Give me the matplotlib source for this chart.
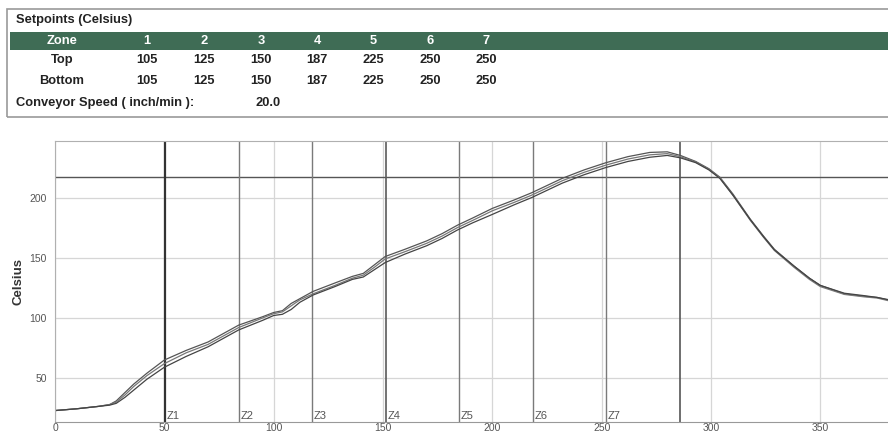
import matplotlib
matplotlib.use("Agg")
import matplotlib.pyplot as plt
from matplotlib.patches import Rectangle

plt.rcParams['font.family'] = ['Liberation Sans', 'DejaVu Sans']

# setpoint table
zones = ["1", "2", "3", "4", "5", "6", "7"]
top_sp = [105, 125, 150, 187, 225, 250, 250]
bottom_sp = [105, 125, 150, 187, 225, 250, 250]
conveyor_speed = "20.0"

# zone boundaries (x) and liquidus line
zone_x = [50.4, 84, 117.6, 151.2, 184.8, 218.4, 252]
zone_end = 285.6
liquidus = 217

# profile traces
t = [0, 10, 20, 25, 28, 32, 36, 42, 50, 60, 70, 84, 95, 100, 104, 108, 112,
     118, 128, 136, 141, 146, 151, 160, 170, 177, 184, 191, 200, 210, 218,
     225, 232, 242, 252, 262, 272, 280, 286, 293, 299, 304, 310, 318, 324,
     329, 338, 345, 350, 361, 370, 376, 383]
tc1 = [23, 24.5, 26.5, 28, 31, 38, 45, 54, 65, 73, 80, 94, 101, 104.5, 106,
       112, 116, 122, 129, 134.5, 137, 144, 151, 157, 164, 170, 177, 183,
       191, 198, 204, 210, 216, 223, 229, 234, 237.5, 238, 235, 230, 224,
       217, 203, 182, 168, 157, 143, 133, 127, 120, 118, 117, 114]
tc2 = [23, 24.5, 26.5, 28, 30, 36, 43, 52, 62, 71, 78, 92, 100, 103.5, 105,
       110, 115, 120, 127, 133, 135.5, 142, 149, 155, 162, 168, 175, 181,
       189, 196, 202, 208, 214, 221, 227, 232, 235.5, 236.5, 234, 229.5, 223.5,
       216.5, 202, 181, 167, 156, 142, 132, 126, 119.5, 117.5, 116.5, 113.5]
tc3 = [23, 24.5, 26.5, 27.5, 29, 34, 40, 49, 59, 68, 76, 90, 98, 102, 103,
       107, 113, 119, 126, 132, 134, 140, 146, 153, 160, 166, 173, 179,
       186, 194, 200, 206, 212, 219, 225, 230, 233.5, 235, 233, 229, 223,
       216, 202, 181.5, 167.5, 156.5, 143, 133, 127, 120.5, 118.5, 117, 114.5]

fig = plt.figure(figsize=(8.88, 4.34), dpi=100)

# ---- setpoint table (figure coords) ----
W, H = 888.0, 434.0
def fx(px): return px / W
def fy(py): return 1 - py / H

fig.patches.append(Rectangle((fx(7), fy(117)), 1.0, (117 - 9) / H, transform=fig.transFigure,
                             fill=False, edgecolor='#9a9a9a', linewidth=1.2))
fig.patches.append(Rectangle((fx(10), fy(50)), 1.0, 18 / H, transform=fig.transFigure,
                             facecolor='#3f6c55', edgecolor='none'))

fs = 9.3
fig.text(fx(16), fy(20), "Setpoints (Celsius)", fontsize=fs, fontweight='bold',
         color='#222222', va='center', ha='left')
col_x = [147, 204, 261, 317, 373, 430, 486]
fig.text(fx(62), fy(41), "Zone", fontsize=fs, fontweight='bold', color='white', va='center', ha='center')
fig.text(fx(62), fy(60), "Top", fontsize=fs, fontweight='bold', color='#222222', va='center', ha='center')
fig.text(fx(62), fy(81), "Bottom", fontsize=fs, fontweight='bold', color='#222222', va='center', ha='center')
for cx, z, a, b in zip(col_x, zones, top_sp, bottom_sp):
    fig.text(fx(cx), fy(41), z, fontsize=fs, fontweight='bold', color='white', va='center', ha='center')
    fig.text(fx(cx), fy(60), str(a), fontsize=fs, fontweight='bold', color='#222222', va='center', ha='center')
    fig.text(fx(cx), fy(81), str(b), fontsize=fs, fontweight='bold', color='#222222', va='center', ha='center')
fig.text(fx(16), fy(103), "Conveyor Speed ( inch/min ):", fontsize=fs, fontweight='bold',
         color='#222222', va='center', ha='left')
fig.text(fx(268), fy(103), conveyor_speed, fontsize=fs, fontweight='bold',
         color='#222222', va='center', ha='center')

# ---- profile plot ----
ax_w = (W - 55) / W + 0.01
ax = fig.add_axes([55 / W, 1 - 422 / H, ax_w, (422 - 141) / H])
ax.set_xlim(0, 385)
ax.set_ylim(13.5, 247)

ax.set_xticks([0, 50, 100, 150, 200, 250, 300, 350])
ax.set_yticks([50, 100, 150, 200])
ax.grid(True, color='#d6d6d6', linewidth=0.9)
ax.set_axisbelow(True)
ax.tick_params(length=0, labelsize=7.5, labelcolor='#555555')
ax.tick_params(axis='x', pad=1)
ax.tick_params(axis='y', pad=6)
for s in ax.spines.values():
    s.set_color('#b0b0b0')
ax.spines['bottom'].set_color('#999999')

ax.axhline(liquidus, color='#555555', linewidth=1.0)
for i, zx in enumerate(zone_x):
    c, lw = ('#333333', 1.6) if i == 0 else (('#5a5a5a', 1.2) if i == 3 else ('#7a7a7a', 1.0))
    ax.axvline(zx, color=c, linewidth=lw)
    ax.text(zx + 0.8, 14.5, "Z%d" % (i + 1), fontsize=8, color='#555555', ha='left', va='bottom')
ax.axvline(zone_end, color='#555555', linewidth=1.2)

ax.plot(t, tc1, color='#555555', linewidth=0.9)
ax.plot(t, tc2, color='#777777', linewidth=0.9)
ax.plot(t, tc3, color='#444444', linewidth=0.9)

ax.set_ylabel("Celsius", fontsize=9.5, fontweight='bold', color='#333333')
ax.yaxis.set_label_coords(-30 / (ax_w * W), 0.5)

fig.savefig("out.png", dpi=100)
